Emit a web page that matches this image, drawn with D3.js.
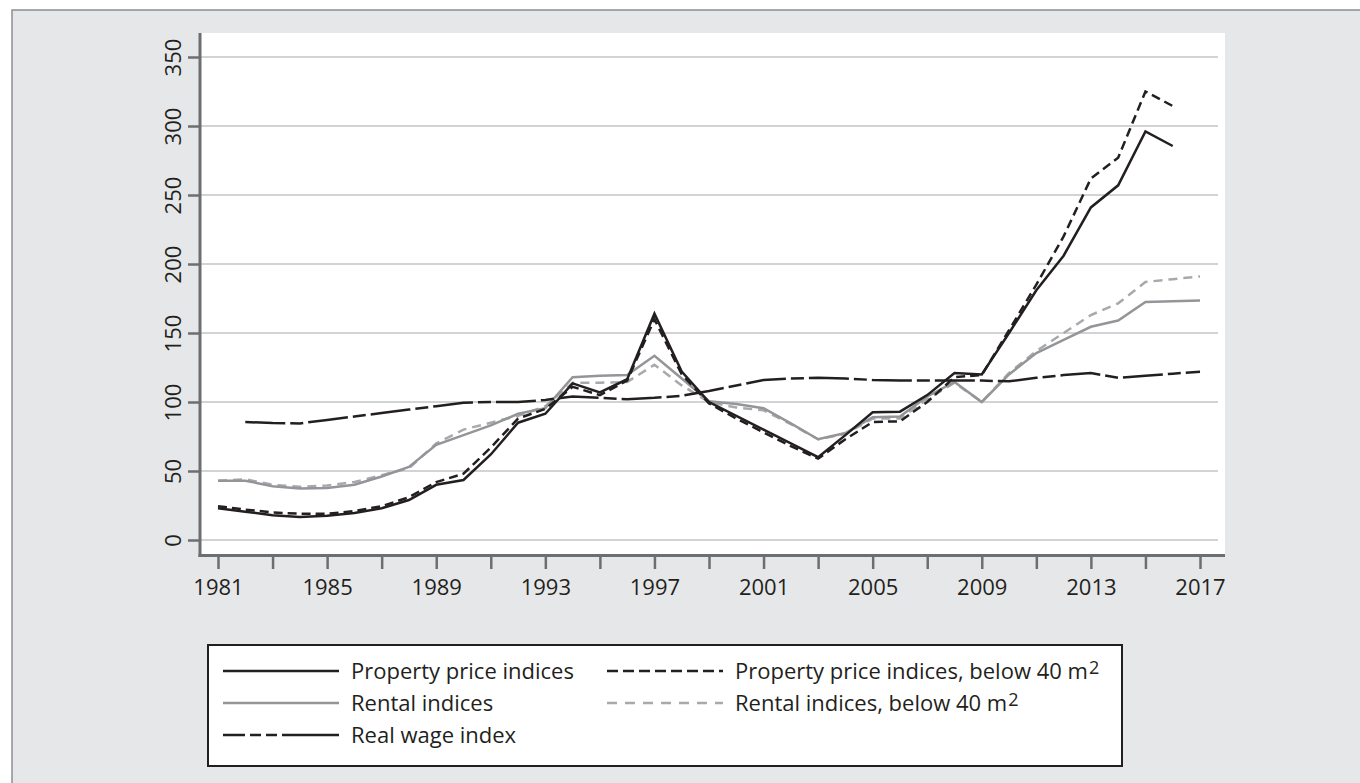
<!DOCTYPE html>
<html>
<head>
  <meta charset="utf-8">
  <script src="https://d3js.org/d3.v7.min.js"></script>
  <style>
    body { margin: 0; background: #fff; }
    svg { display: block; }
  </style>
</head>
<body>
<script type="text/javascript">

  // values, one entry per year 1981-2017 (null = no value)
  var years = d3.range(1981, 2018);

  var propertyPrice = [23, 20.5, 18, 16.7, 17.5, 19.5, 23, 29, 40, 43.5, 62, 85, 91.5,
    113.5, 107, 116.5, 164, 122, 100, 90, 80, 70, 60, 76, 92.5, 93, 105, 121, 120,
    150, 181, 206, 241, 257, 296, 285.5, null];

  var propertyPriceSmall = [24.5, 22, 20, 19, 19, 21, 24.5, 31, 42, 48, 67, 88, 95,
    111, 105, 115.5, 160, 120, 99, 88, 78, 68, 59, 73, 85.5, 86, 100, 118, 119.5,
    152, 185, 220, 262, 277, 325, 314.5, null];

  var rental = [43, 43, 39, 37.4, 37.6, 40, 46, 53, 69, 76, 83, 91.5, 95.5,
    118, 119, 119.5, 133.5, 117, 100.5, 98.5, 95.5, 84.5, 73, 77.5, 89, 89.5, 104,
    114.5, 100, 120, 135.5, 145, 154.5, 159, 172.5, 173, 173.5];

  var rentalSmall = [43, 44, 40, 38.5, 39.5, 42, 47, 52, 70, 80, 85, 90, 97,
    114, 114, 114.5, 127, 112, 100, 96, 94, 84, 73, 77, 88, 88, 102, 114, 100,
    121, 137, 150, 163, 171.5, 187, 189, 191];

  var realWage = [null, 85.5, 84.7, 84.5, 87, 89.5, 92, 94.5, 97, 99.5, 100, 100, 101.5,
    104, 103, 102, 103, 104.5, 108, 112, 116, 117, 117.5, 117, 116, 115.5, 115.5,
    115.5, 115.5, 115, 117.5, 119.5, 121, 117.5, 119, 120.5, 122];

  var yTicks = [0, 50, 100, 150, 200, 250, 300, 350];
  var xTicks = d3.range(1981, 2018, 2);
  var xLabels = d3.range(1981, 2018, 4);

  var legendLabels = ["Property price indices", "Property price indices, below 40 m",
    "Rental indices", "Rental indices, below 40 m", "Real wage index"];

  var ink = "#231f20",
      axisGrey = "#6d6e71";

  // line styles, drawn in this order (grey under black)
  var series = [
    {name: legendLabels[3], values: rentalSmall, color: "#a7a9ac", dash: "9,6", key: "10,8", width: 2.5},
    {name: legendLabels[2], values: rental, color: "#939598", dash: null, key: null, width: 2.5},
    {name: legendLabels[4], values: realWage, color: ink, dash: "40,5,13,5", key: "22,5,11,5,11,5,200", width: 2.5},
    {name: legendLabels[1], values: propertyPriceSmall, color: ink, dash: "9,5", key: "11,5", width: 2.5},
    {name: legendLabels[0], values: propertyPrice, color: ink, dash: null, key: null, width: 2.5}
  ];

  var svg = d3.select("body").append("svg")
      .attr("width", 1360)
      .attr("height", 783);

  // page frame
  svg.append("rect")
      .attr("x", 12).attr("y", 10)
      .attr("width", 1360).attr("height", 800)
      .attr("fill", "#e6e7e8")
      .attr("stroke", "#8d8f91")
      .attr("stroke-width", 1.5);

  var x = d3.scaleLinear().domain([1981, 2017]).range([218, 1200]);
  var y = d3.scaleLinear().domain([0, 350]).range([540, 57]);

  // plot area
  svg.append("rect")
      .attr("x", 200).attr("y", 33)
      .attr("width", 1025).attr("height", 522)
      .attr("fill", "#fff");

  svg.append("g").selectAll("line")
      .data(yTicks)
    .enter().append("line")
      .attr("x1", 200).attr("x2", 1218)
      .attr("y1", function(d) { return y(d); })
      .attr("y2", function(d) { return y(d); })
      .attr("stroke", "#d1d3d4")
      .attr("stroke-width", 2);

  // axes
  var yAxis = d3.axisLeft(y).tickValues(yTicks).tickSize(12).tickPadding(6);
  var gy = svg.append("g").attr("transform", "translate(200,0)").call(yAxis);
  gy.select(".domain").remove();
  gy.selectAll(".tick line").attr("stroke", axisGrey).attr("stroke-width", 2.5);
  gy.selectAll(".tick text")
      .attr("x", null).attr("dy", null)
      .attr("transform", "translate(-19,0) rotate(-90)")
      .attr("text-anchor", "middle")
      .attr("fill", ink)
      .style("font-family", "'Open Sans', sans-serif")
      .style("font-size", "22px");

  var xAxis = d3.axisBottom(x).tickValues(xTicks).tickSize(13)
      .tickFormat(function(d) { return xLabels.indexOf(d) >= 0 ? d : ""; });
  var gx = svg.append("g").attr("transform", "translate(0,556)").call(xAxis);
  gx.select(".domain").remove();
  gx.selectAll(".tick line").attr("stroke", axisGrey).attr("stroke-width", 2.5);
  gx.selectAll(".tick text")
      .attr("y", 39).attr("dy", null)
      .attr("fill", ink)
      .style("font-family", "'Open Sans', sans-serif")
      .style("font-size", "22px");

  svg.append("line")
      .attr("x1", 200).attr("x2", 200).attr("y1", 33).attr("y2", 557)
      .attr("stroke", axisGrey).attr("stroke-width", 3);
  svg.append("line")
      .attr("x1", 198.5).attr("x2", 1225).attr("y1", 555.5).attr("y2", 555.5)
      .attr("stroke", axisGrey).attr("stroke-width", 3);

  // the lines
  var line = d3.line()
      .defined(function(d) { return d.v != null; })
      .x(function(d) { return x(d.year); })
      .y(function(d) { return y(d.v); });

  series.forEach(function(s) {
    var pts = years.map(function(yr, i) { return {year: yr, v: s.values[i]}; });
    svg.append("path")
        .datum(pts)
        .attr("d", line)
        .attr("fill", "none")
        .attr("stroke", s.color)
        .attr("stroke-width", s.width)
        .attr("stroke-dasharray", s.dash)
        .attr("stroke-linejoin", "miter");
  });

  // legend
  var legend = svg.append("g");
  legend.append("rect")
      .attr("x", 208).attr("y", 645)
      .attr("width", 914).attr("height", 121)
      .attr("fill", "#fff")
      .attr("stroke", ink)
      .attr("stroke-width", 2);

  var legendPos = {};
  legendPos[legendLabels[0]] = [223, 671, false];
  legendPos[legendLabels[1]] = [607, 671, true];
  legendPos[legendLabels[2]] = [223, 703, false];
  legendPos[legendLabels[3]] = [607, 703, true];
  legendPos[legendLabels[4]] = [223, 735, false];

  series.forEach(function(s) {
    var p = legendPos[s.name];
    legend.append("line")
        .attr("x1", p[0]).attr("x2", p[0] + 116)
        .attr("y1", p[1]).attr("y2", p[1])
        .attr("stroke", s.color)
        .attr("stroke-width", 2.5)
        .attr("stroke-dasharray", s.key);
    var t = legend.append("text")
        .attr("x", p[0] + 128)
        .attr("y", p[1] + 8)
        .attr("fill", ink)
        .style("font-family", "'Open Sans', sans-serif")
        .style("font-size", "22px")
        .text(s.name);
    // the squared sign, set raised just after the label
    if (p[2]) {
      var w = t.node().getComputedTextLength();
      legend.append("text")
          .attr("x", p[0] + 129 + w)
          .attr("y", p[1] + 3)
          .attr("fill", ink)
          .style("font-family", "'Open Sans', sans-serif")
          .style("font-size", "18px")
          .text("2");
    }
  });

</script>
</body>
</html>
